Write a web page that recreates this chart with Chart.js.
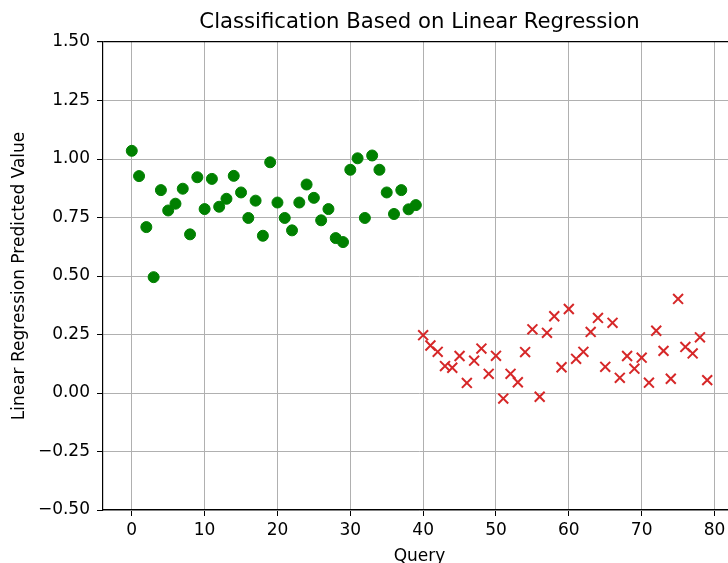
<!DOCTYPE html>
<html>
<head>
<meta charset="utf-8">
<script src="https://cdn.jsdelivr.net/npm/chart.js@4/dist/chart.umd.min.js"></script>
<style>
  html, body { margin: 0; padding: 0; overflow: hidden; background: #fff; }
  #wrap { width: 745px; height: 563px; }
</style>
</head>
<body>
<div id="wrap"><canvas id="chart" width="745" height="563"></canvas></div>
<script>
// Predicted values (query index = position)
const greenValues = [
    1.035, 0.927, 0.709, 0.495, 0.867, 0.780, 0.809, 0.873, 0.678, 0.922,
    0.786, 0.915, 0.796, 0.830, 0.928, 0.857, 0.748, 0.822, 0.672, 0.986,
    0.814, 0.748, 0.695, 0.814, 0.891, 0.834, 0.738, 0.786, 0.662, 0.645,
    0.954, 1.003, 0.748, 1.015, 0.954, 0.857, 0.765, 0.867, 0.785, 0.803
];
const redValues = [
    0.247, 0.203, 0.176, 0.115, 0.108, 0.158, 0.043, 0.138, 0.190, 0.082,
    0.159, -0.024, 0.082, 0.046, 0.175, 0.272, -0.016, 0.257, 0.328, 0.110,
    0.359, 0.146, 0.176, 0.261, 0.321, 0.112, 0.300, 0.065, 0.158, 0.104,
    0.151, 0.044, 0.266, 0.180, 0.061, 0.402, 0.197, 0.169, 0.238, 0.055
];
const redStart = 40;

const xTicks = [0, 10, 20, 30, 40, 50, 60, 70, 80];
const yTicks = [-0.5, -0.25, 0, 0.25, 0.5, 0.75, 1.0, 1.25, 1.5];
const yTickLabels = ['\u22120.50', '\u22120.25', '0.00', '0.25', '0.50', '0.75', '1.00', '1.25', '1.50'];

const titleText = 'Classification Based on Linear Regression';
const fontFamily = '"DejaVu Sans", sans-serif';

const greenPoints = greenValues.map((v, i) => ({ x: i, y: v }));
const redPoints = redValues.map((v, i) => ({ x: redStart + i, y: v }));

// title centred over the plot area, like matplotlib
const titlePlugin = {
    id: 'axesTitle',
    afterDraw(chart) {
        const { ctx, chartArea } = chart;
        ctx.save();
        ctx.fillStyle = '#000';
        ctx.font = '21.2px ' + fontFamily;
        ctx.textAlign = 'center';
        ctx.textBaseline = 'middle';
        ctx.fillText(titleText, (chartArea.left + chartArea.right) / 2, 22);
        ctx.restore();
    }
};

new Chart(document.getElementById('chart'), {
    type: 'scatter',
    data: {
        datasets: [
            {
                data: greenPoints,
                pointStyle: 'circle',
                pointRadius: 5.5,
                pointHoverRadius: 5.5,
                backgroundColor: '#008000',
                borderColor: '#008000',
                borderWidth: 1,
            },
            {
                data: redPoints,
                pointStyle: 'crossRot',
                pointRadius: 7,
                pointHoverRadius: 7,
                borderColor: '#d62728',
                borderWidth: 2,
            },
        ],
    },
    options: {
        responsive: false,
        animation: false,
        layout: { padding: { top: 42, right: 4, left: 0, bottom: 0 } },
        plugins: {
            legend: { display: false },
            tooltip: { enabled: false },
        },
        scales: {
            x: {
                type: 'linear',
                min: -3.95,
                max: 82.95,
                afterBuildTicks: (scale) => { scale.ticks = xTicks.map((v) => ({ value: v })); },
                afterFit: (scale) => { scale.height = 53; },
                grid: { color: '#b0b0b0', lineWidth: 1, tickColor: '#000', tickLength: 6 },
                border: { color: '#000', width: 1.2 },
                ticks: { color: '#000', padding: 4, font: { family: fontFamily, size: 17 } },
                title: { display: true, text: 'Query', color: '#000', padding: { top: 0, bottom: 0 }, font: { family: fontFamily, size: 17, lineHeight: 0.8 } },
            },
            y: {
                type: 'linear',
                min: -0.5,
                max: 1.5,
                afterBuildTicks: (scale) => { scale.ticks = yTicks.map((v) => ({ value: v })); },
                afterFit: (scale) => { scale.width = 103; },
                grid: {
                    color: (c) => (c.tick && c.tick.value === 1.5 ? '#000' : '#b0b0b0'),
                    lineWidth: (c) => (c.tick && c.tick.value === 1.5 ? 1.2 : 1),
                    tickColor: '#000',
                    tickLength: 6,
                },
                border: { color: '#000', width: 1.2 },
                ticks: {
                    color: '#000',
                    padding: 7,
                    font: { family: fontFamily, size: 17 },
                    callback: (value, index) => yTickLabels[index],
                },
                title: { display: true, text: 'Linear Regression Predicted Value', color: '#000', padding: { top: 9, bottom: 2 }, font: { family: fontFamily, size: 17 } },
            },
        },
    },
    plugins: [titlePlugin],
});
</script>
</body>
</html>
